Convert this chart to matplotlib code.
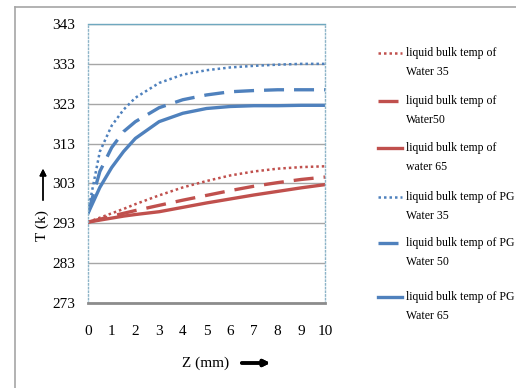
import matplotlib.pyplot as plt
from matplotlib.lines import Line2D

plt.rcParams["font.family"] = ["Liberation Serif", "DejaVu Serif"]

# 轴向位置 Z (mm)
z = [0, 0.5, 1, 1.5, 2, 3, 4, 5, 6, 7, 8, 9, 10]

# 温度 T (K)
water_35 = [293.3, 294.4, 295.5, 296.6, 297.8, 300.0, 302.0, 303.6, 305.0, 306.0, 306.7, 307.1, 307.3]
water_50 = [293.3, 294.0, 294.8, 295.5, 296.2, 297.5, 298.8, 300.0, 301.2, 302.3, 303.2, 304.0, 304.6]
water_65 = [293.3, 293.8, 294.3, 294.8, 295.2, 295.9, 297.0, 298.1, 299.1, 300.1, 301.0, 301.9, 302.7]
pg_35 = [296.0, 311.0, 317.5, 321.5, 324.5, 328.2, 330.3, 331.4, 332.1, 332.5, 332.8, 333.0, 333.0]
pg_50 = [295.5, 306.0, 312.0, 316.0, 318.5, 322.0, 324.0, 325.2, 326.0, 326.3, 326.5, 326.5, 326.5]
pg_65 = [295.5, 302.0, 307.0, 311.0, 314.3, 318.5, 320.6, 321.8, 322.3, 322.5, 322.5, 322.6, 322.6]

labels = [
    "liquid bulk temp of\nWater 35",
    "liquid bulk temp of\nWater50",
    "liquid bulk temp of\nwater 65",
    "liquid bulk temp of PG\nWater 35",
    "liquid bulk temp of PG\nWater 50",
    "liquid bulk temp of PG\nWater 65",
]

RED = "#C0504D"
BLUE = "#4F81BD"

series = [water_35, water_50, water_65, pg_35, pg_50, pg_65]
colors = [RED, RED, RED, BLUE, BLUE, BLUE]
styles = [
    dict(linestyle=(0, (1, 1.2)), linewidth=1.8),
    dict(linestyle=(0, (6, 3)), linewidth=2.4),
    dict(linestyle="-", linewidth=2.4),
    dict(linestyle=(0, (1, 1.2)), linewidth=1.8),
    dict(linestyle=(0, (6, 3)), linewidth=2.4),
    dict(linestyle="-", linewidth=2.4),
]

W, H = 516, 388
fig = plt.figure(figsize=(W / 100, H / 100), dpi=100)
ax = fig.add_axes([88 / W, 1 - 303 / H, (325 - 88) / W, (303 - 24) / H])

for y, c, s in zip(series, colors, styles):
    ax.plot(z, y, color=c, **s)

ax.set_xlim(0, 10)
ax.set_ylim(273, 343)
ax.set_xticks(range(0, 11))
ax.set_yticks(range(273, 344, 10))
ax.tick_params(length=0, labelsize=11)
ax.tick_params(axis="x", pad=16)
ax.tick_params(axis="y", pad=9)

# 网格线
ax.grid(axis="y", color="#A6A6A6", linewidth=1)
ax.set_axisbelow(True)

ax.spines["bottom"].set_color("#8C8C8C")
ax.spines["bottom"].set_linewidth(2)
ax.spines["top"].set_color("#6FA8BF")
ax.spines["top"].set_linewidth(1)
for side in ["left", "right"]:
    ax.spines[side].set_color("#8DB4C8")
    ax.spines[side].set_linestyle(":")
    ax.spines[side].set_linewidth(1)

# 坐标轴标题和箭头
fig.text(42 / W, 1 - 226 / H, "T (k)", rotation=90, fontsize=11,
         ha="center", va="center")
fig.add_artist(plt.annotate(
    "", xy=(43 / W, 1 - 166 / H), xytext=(43 / W, 1 - 203 / H),
    xycoords="figure fraction", textcoords="figure fraction",
    arrowprops=dict(arrowstyle="-|>", color="black", lw=1.0, mutation_scale=10),
))
fig.text(206 / W, 1 - 363 / H, "Z (mm)", fontsize=11, ha="center", va="center")
fig.add_artist(plt.annotate(
    "", xy=(273 / W, 1 - 363 / H), xytext=(239 / W, 1 - 363 / H),
    xycoords="figure fraction", textcoords="figure fraction",
    arrowprops=dict(arrowstyle="-|>", color="black", lw=2.5, mutation_scale=9),
))

# 图例
legend_y = [53, 101, 148, 197, 243, 297]
for ly, lab, c, s in zip(legend_y, labels, colors, styles):
    fig.add_artist(Line2D([378 / W, 402 / W], [1 - ly / H, 1 - ly / H],
                          color=c, transform=fig.transFigure, **s))
    fig.text(406 / W, 1 - (ly - 6) / H, lab, fontsize=8.5, ha="left", va="top",
             linespacing=1.75)

# 外框
fig.add_artist(Line2D([15 / W, 1.0], [1 - 7 / H, 1 - 7 / H], color="#A6A6A6",
                      linewidth=1.2, transform=fig.transFigure))
fig.add_artist(Line2D([15 / W, 15 / W], [0, 1 - 7 / H], color="#A6A6A6",
                      linewidth=1.2, transform=fig.transFigure))

fig.savefig("out.png", dpi=100)
